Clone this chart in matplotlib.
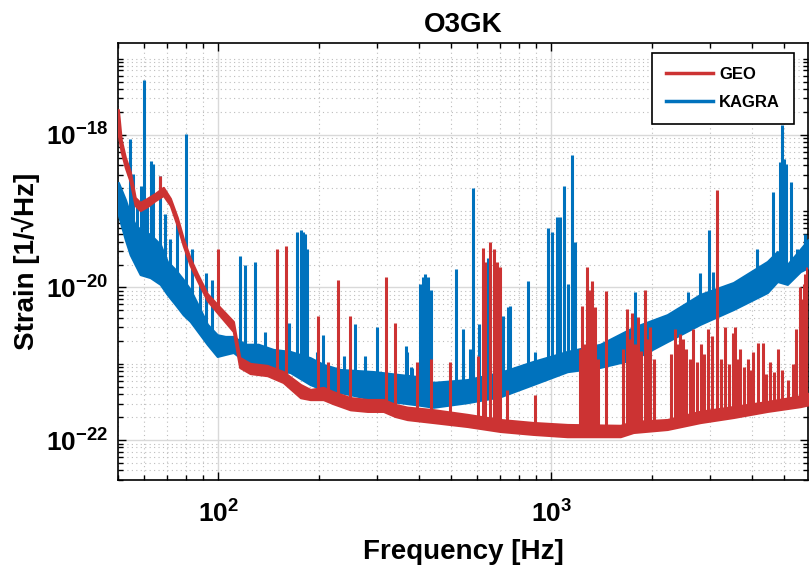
import numpy as np
import matplotlib
matplotlib.use('Agg')
import matplotlib.pyplot as plt
from matplotlib.lines import Line2D
from matplotlib.patches import Polygon
from matplotlib.ticker import FixedLocator, LogLocator, NullFormatter

# KAGRA noise band (lower / upper edge of the trace) and narrow lines
kagra_f = [50.1, 52.6, 54.4, 56.3, 58.3, 62.5, 67.0, 70.3, 74.3, 78.5, 82.4, 88.3, 92.7, 99.3, 105,
           111, 120.5, 131.9, 146.3, 164.5, 188.9, 206.7, 232.6, 292.3, 351.4, 396.2, 442.7, 559.5,
           702, 880.8, 1117, 1403, 1763, 2230, 2801, 3521, 4454, 4774, 5114, 5595, 5913]
kagra_hi = [2.38e-19, 1.42e-19, 9.05e-20, 6.7e-20, 5.75e-20, 4.95e-20, 3.66e-20, 2.19e-20, 1.72e-20,
            1.27e-20, 9.4e-21, 5.15e-21, 3.3e-21, 2.4e-21, 2.28e-21, 2.28e-21, 1.8e-21, 1.8e-21,
            1.54e-21, 1.45e-21, 1.2e-21, 9.8e-22, 8.4e-22, 7.9e-22, 7.2e-22, 6.8e-22, 5.7e-22, 6.2e-22,
            7.7e-22, 1.07e-21, 1.45e-21, 1.8e-21, 3.0e-21, 4.4e-21, 8.1e-21, 1.16e-20, 2.19e-20,
            2.96e-20, 2.0e-20, 3.17e-20, 4.26e-20]
kagra_lo = [9.05e-20, 4.26e-20, 2.7e-20, 2.0e-20, 1.48e-20, 1.35e-20, 1.1e-20, 8.1e-21, 6.0e-21,
            4.4e-21, 3.6e-21, 2.4e-21, 1.8e-21, 1.25e-21, 1.33e-21, 1.41e-21, 1.07e-21, 9.8e-22,
            8.4e-22, 7.7e-22, 5.35e-22, 4.6e-22, 4.2e-22, 3.4e-22, 3.1e-22, 2.9e-22, 2.7e-22, 3.1e-22,
            3.7e-22, 5.35e-22, 7.9e-22, 9e-22, 1.14e-21, 1.96e-21, 3.3e-21, 5.15e-21, 8.6e-21,
            1.2e-20, 1.1e-20, 1.62e-20, 1.83e-20]
kagra_line_f = [54.4, 55.6, 57.1, 58.7, 60.0, 61.2, 62.9, 63.8, 67.0, 69.3, 71.8, 75.3, 80.2, 83.5,
                88.3, 92.0, 96.0, 116, 120.5, 129, 138.4, 163.5, 172.7, 176.6, 180.0, 182.5, 185.0,
                198, 206.7, 237.8, 258.1, 275, 300.5, 365, 369, 380, 383, 404.8, 412.6, 419, 425,
                434, 518.8, 544, 570, 580.5, 608, 644.4, 673.4, 717.6, 742, 753, 850.5, 893, 979,
                1007, 1042, 1064, 1094, 1125, 1156, 1180, 1788, 2579, 2801, 2981, 3065, 4154, 4485,
                4642, 4872, 4940, 5010, 5079, 5258, 5480, 5790]
kagra_line_v = [8.7e-19, 3.03e-19, 1.42e-19, 2.17e-19, 5.3e-18, 1.22e-19, 4.5e-19, 4.1e-19,
                2.85e-19, 9.05e-20, 4.26e-20, 7.1e-20, 1.02e-18, 3.17e-20, 1.2e-20, 1.57e-20,
                1.27e-20, 2.55e-20, 2.0e-20, 2.19e-20, 2.65e-21, 3.47e-21, 5.26e-20, 5.75e-20,
                5.4e-20, 4.95e-20, 3.17e-20, 1.41e-21, 2.4e-21, 1.25e-21, 3.3e-21, 1.25e-21, 3.08e-21,
                1.69e-21, 1.41e-21, 9.2e-22, 8.9e-22, 1.1e-20, 1.39e-20, 1.48e-20, 1.39e-20, 9.4e-21,
                1.77e-20, 2.82e-21, 1.54e-21, 1.99e-19, 3.37e-21, 2.47e-20, 1.48e-20, 4.17e-21,
                5.5e-21, 5.64e-21, 1.23e-20, 1.41e-21, 6.1e-20, 5.4e-20, 8.3e-20, 8.3e-20, 2.11e-19,
                1.1e-20, 5.5e-19, 3.9e-20, 8.6e-21, 8.6e-21, 1.57e-20, 5.75e-20, 1.62e-20, 3.17e-20,
                1.88e-20, 1.81e-19, 4.36e-19, 1.33e-18, 4.8e-19, 4.1e-19, 2.38e-19, 3.17e-20,
                4.95e-20]

# GEO noise band and lines
geo_f = [50.1, 51.1, 52.6, 54.4, 56.3, 58.3, 61.2, 64.7, 68.4, 71.8, 75.3, 78.5, 82.4, 86.5, 92.7,
         99.3, 111, 116, 124.7, 140.4, 156.7, 176.6, 188.9, 206.7, 221.5, 249.1, 280.5, 313.2, 340,
         369.4, 442.7, 559.5, 702, 880.8, 1117, 1612, 1763, 2230, 2801, 3521, 4454, 5595, 5913]
geo_hi = [2.15e-18, 8.7e-19, 5.06e-19, 3.31e-19, 1.51e-19, 1.3e-19, 1.47e-19, 1.71e-19, 2.05e-19,
          1.47e-19, 8.3e-20, 4.39e-20, 2.4e-20, 1.52e-20, 8.3e-21, 5.99e-21, 3.58e-21, 1.21e-21,
          1.01e-21, 9.5e-22, 7.9e-22, 5.35e-22, 4.6e-22, 4.9e-22, 4.3e-22, 3.6e-22, 3.4e-22, 3.4e-22,
          2.93e-22, 2.7e-22, 2.5e-22, 2.17e-22, 1.86e-22, 1.7e-22, 1.6e-22, 1.56e-22, 1.75e-22,
          1.86e-22, 2.38e-22, 2.75e-22, 3.2e-22, 3.8e-22, 4.1e-22]
geo_lo = [1.01e-18, 6.05e-19, 3.74e-19, 2.45e-19, 1.19e-19, 1.02e-19, 1.15e-19, 1.38e-19, 1.61e-19,
          1.19e-19, 6.5e-20, 3.55e-20, 1.94e-20, 1.24e-20, 6.76e-21, 4.7e-21, 2.65e-21, 8.95e-22,
          7.46e-22, 7.0e-22, 5.7e-22, 3.6e-22, 3.4e-22, 3.4e-22, 3.0e-22, 2.5e-22, 2.38e-22, 2.38e-22,
          2.04e-22, 1.86e-22, 1.7e-22, 1.51e-22, 1.3e-22, 1.19e-22, 1.11e-22, 1.11e-22, 1.26e-22,
          1.38e-22, 1.7e-22, 1.98e-22, 2.38e-22, 2.75e-22, 2.9e-22]
geo_line_f = [67.0, 100, 150.4, 160, 199.6, 213.9, 229.3, 249.1, 320, 340, 396, 434, 498, 602.5,
              625.3, 634, 656, 673.4, 687.5, 702, 737, 893, 1222, 1239, 1256, 1283, 1300, 1309,
              1328, 1346, 1356, 1384, 1463, 1645, 1692, 1727, 1751, 1788, 1825, 1863, 1916, 1956,
              1984, 2039, 2293, 2356, 2390, 2440, 2491, 2543, 2614, 2670, 2744, 2822, 2881, 2961,
              3044, 3150, 3239, 3331, 3423, 3521, 3570, 3643, 3696, 3798, 3905, 3987, 4044, 4184,
              4332, 4421, 4548, 4670, 4805, 4940, 5150, 5330, 5441, 5595, 5673, 5752, 5790, 5832,
              5870, 5910]
geo_line_v = [2.85e-19, 3.17e-20, 3.24e-20, 3.55e-20, 4.17e-21, 1.04e-21, 1.27e-20, 4.17e-21,
              1.39e-20, 3.47e-21, 1.04e-21, 1.14e-21, 1.04e-21, 1.25e-21, 3.34e-20, 2.19e-20,
              4.0e-20, 3.17e-20, 2.19e-20, 1.88e-20, 4.6e-22, 3.95e-22, 1.54e-21, 5.64e-21, 1.8e-21,
              1.88e-20, 1.45e-21, 9.4e-21, 1.2e-20, 1.33e-21, 5.5e-21, 1.14e-21, 8.9e-21, 1.54e-21,
              5.15e-21, 2.09e-21, 4.7e-21, 1.8e-21, 4.05e-21, 1.45e-21, 9.4e-21, 2.09e-21, 3.08e-21,
              1.14e-21, 1.33e-21, 2.82e-21, 1.8e-21, 2.43e-21, 2.09e-21, 1.54e-21, 1.14e-21,
              2.82e-21, 1.04e-21, 1.8e-21, 1.33e-21, 2.82e-21, 2.28e-21, 1.92e-19, 1.14e-21,
              3.08e-21, 9.8e-22, 2.57e-21, 3.08e-21, 1.14e-21, 1.54e-21, 9e-22, 1.14e-21, 8.4e-22,
              1.41e-21, 1.9e-21, 1.9e-21, 7.3e-22, 1.04e-21, 7.9e-22, 1.54e-21, 8.4e-22, 6.2e-22,
              9.8e-22, 2.82e-21, 1.03e-20, 6.97e-21, 1.1e-20, 1.48e-20, 1.27e-20, 1.88e-20, 9.4e-21]

geo_color = '#CC3333'
kagra_color = '#0072BD'
XMIN, XMAX = 50, 5900
YMIN, YMAX = 3e-23, 1.6e-17

plt.rcParams['font.family'] = ['Liberation Sans', 'DejaVu Sans']
plt.rcParams['font.weight'] = 'bold'
plt.rcParams['mathtext.fontset'] = 'custom'
plt.rcParams['mathtext.rm'] = 'Liberation Sans:bold'
plt.rcParams['mathtext.it'] = 'Liberation Sans:bold'
plt.rcParams['mathtext.bf'] = 'Liberation Sans:bold'

fig = plt.figure(figsize=(8.09, 5.71), dpi=100)
ax = fig.add_axes([118/809, 91/571, 690/809, 437/571])
ax.set_xscale('log')
ax.set_yscale('log')


def draw_trace(f, lo, hi, line_f, line_v, color):
    ax.fill_between(f, lo, hi, facecolor=color, edgecolor=color, linewidth=1.6, zorder=3)
    lc = ax.vlines(line_f, YMIN, line_v, color=color, linewidth=2.2, zorder=3)
    # lines start at the lower edge of the noise band
    clip = Polygon(list(zip(f, lo)) + [(f[-1], 1e-15), (f[0], 1e-15)], transform=ax.transData)
    lc.set_clip_path(clip)


draw_trace(kagra_f, kagra_lo, kagra_hi, kagra_line_f, kagra_line_v, kagra_color)
draw_trace(geo_f, geo_lo, geo_hi, geo_line_f, geo_line_v, geo_color)

ax.set_xlim(XMIN, XMAX)
ax.set_ylim(YMIN, YMAX)

ax.xaxis.set_minor_locator(LogLocator(base=10, subs=np.arange(2, 10), numticks=100))
ax.xaxis.set_minor_formatter(NullFormatter())
ax.yaxis.set_major_locator(FixedLocator([1e-22, 1e-20, 1e-18]))
ax.yaxis.set_minor_locator(LogLocator(base=10, subs=np.arange(1, 10), numticks=100))
ax.yaxis.set_minor_formatter(NullFormatter())

ax.grid(which='major', color='#d9d9d9', linewidth=1.0)
ax.grid(which='minor', color='#bdbdbd', linestyle=(0, (1, 3)), linewidth=0.8)
ax.set_axisbelow(True)

ax.tick_params(which='both', direction='in', top=True, right=True, width=1.0, labelsize=19)
ax.tick_params(which='major', length=6)
ax.tick_params(which='minor', length=3.5)
ax.tick_params(axis='x', pad=15)
ax.tick_params(axis='y', pad=7)
for s in ax.spines.values():
    s.set_linewidth(1.2)

ax.set_title('O3GK', fontsize=20, fontweight='bold', pad=8)
ax.set_xlabel('Frequency [Hz]', fontsize=20, fontweight='bold', labelpad=8)
ax.set_ylabel('Strain [1/\u221aHz]', fontsize=20, fontweight='bold', labelpad=4)

handles = [Line2D([], [], color=geo_color, linewidth=2.5, label='GEO'),
           Line2D([], [], color=kagra_color, linewidth=2.5, label='KAGRA')]
leg = ax.legend(handles=handles, loc='upper right', bbox_to_anchor=(0.9797, 0.977),
                borderaxespad=0, fontsize=12, fancybox=False, edgecolor='black', framealpha=1,
                handlelength=2.8, handletextpad=0.35, labelspacing=0.75, borderpad=0.85)
leg.get_frame().set_linewidth(1.2)

fig.savefig('out.png', dpi=100)
